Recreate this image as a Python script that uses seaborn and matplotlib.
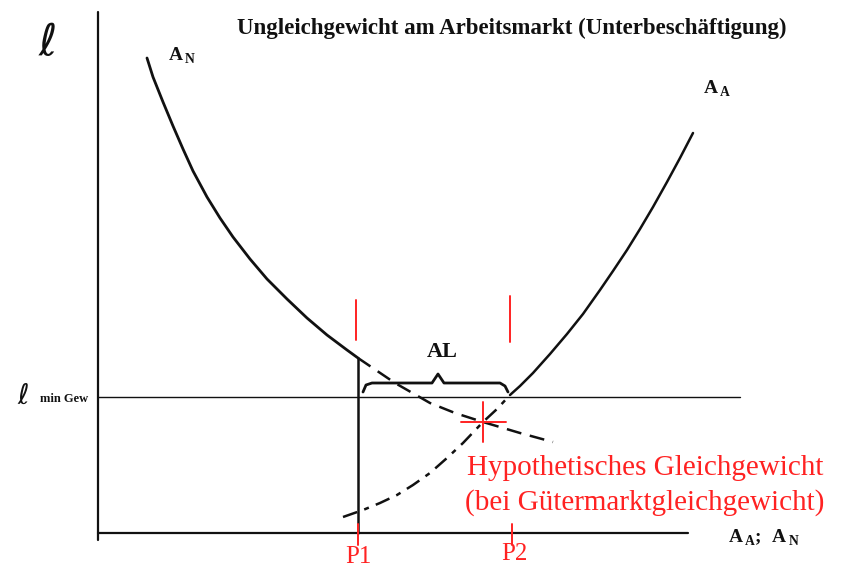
import numpy as np
import pandas as pd
import matplotlib
matplotlib.use("Agg")
import matplotlib.pyplot as plt
import seaborn as sns

sns.set_theme(style="white")
plt.rcParams["font.family"] = ["Liberation Serif", "DejaVu Serif"]
plt.rcParams["mathtext.fontset"] = "custom"
plt.rcParams["mathtext.rm"] = "Liberation Serif"
plt.rcParams["mathtext.bf"] = "Liberation Serif:bold"

# --- curve data (employment on x, real wage on y, arbitrary units) ---
# labour demand A_N, observed part
an_x = [49, 55, 65, 75, 85, 95, 109, 122, 135, 152, 169, 189, 209, 229, 249, 260]
an_y = [475, 456, 431, 407, 384, 362, 336, 315, 296, 274, 254, 234, 215, 198, 183, 175]
# labour demand A_N, hypothetical continuation
an_hyp_x = [260, 297, 332, 357, 385, 422, 455]
an_hyp_y = [175, 150, 130, 120, 111, 100, 91]
# labour supply A_A, hypothetical lower part
aa_hyp_x = [245, 265, 282, 299, 315, 332, 349, 365, 385, 399, 412]
aa_hyp_y = [16, 23, 30, 38, 48, 60, 75, 90, 111, 124, 138]
# labour supply A_A, observed part
aa_x = [412, 422, 435, 452, 469, 485, 502, 515, 529, 542, 555, 569, 582, 595]
aa_y = [138, 147, 160, 179, 199, 219, 243, 262, 283, 304, 326, 351, 375, 400]

wage_min = 136          # minimum wage level
p1, p2 = 260, 412       # employment points P1 / P2
eq_x, eq_y = 385, 111   # hypothetical equilibrium

RED = "#ff2222"
BLACK = "#111111"

fig = plt.figure(figsize=(8.45, 5.71), dpi=100)
ax = fig.add_axes([0, 0, 1, 1])
ax.set_xlim(-98, 747)
ax.set_ylim(-38, 533)
ax.axis("off")

df_an = pd.DataFrame({"x": an_x, "y": an_y})
df_an_h = pd.DataFrame({"x": an_hyp_x, "y": an_hyp_y})
df_aa = pd.DataFrame({"x": aa_x, "y": aa_y})
df_aa_h = pd.DataFrame({"x": aa_hyp_x, "y": aa_hyp_y})

line_kw = dict(ax=ax, color=BLACK, sort=False, estimator=None)
sns.lineplot(data=df_an, x="x", y="y", lw=2.0, solid_joinstyle="round", **line_kw)
sns.lineplot(data=df_an_h, x="x", y="y", lw=1.8, linestyle=(0, (6, 3.5)), **line_kw)
sns.lineplot(data=df_aa, x="x", y="y", lw=1.8, solid_joinstyle="round", **line_kw)
sns.lineplot(data=df_aa_h, x="x", y="y", lw=1.8, linestyle=(0, (6, 3, 2, 3)), **line_kw)

# axes
ax.plot([0, 0], [-7, 521], color=BLACK, lw=1.6)
ax.plot([0, 590], [0, 0], color=BLACK, lw=1.6)
# minimum wage line
ax.plot([0, 642], [wage_min, wage_min], color=BLACK, lw=1.0)
# employment at P1
ax.plot([p1, p1], [0, an_y[-1]], color=BLACK, lw=1.8)

# brace marking unemployment AL
bx = [265, 268, 274, 334, 340, 346, 402, 407, 410]
by = [141, 148, 150, 150, 159, 150, 150, 147, 141]
ax.plot(bx, by, color=BLACK, lw=2.0)
ax.text(344, 181, "AL", ha="center", va="center", fontsize=16,
        fontweight="bold", color=BLACK)

# red markers
for px, (y0, y1) in zip([p1 - 2, p2], [(193, 233), (191, 237)]):
    ax.plot([px, px], [y0, y1], color=RED, lw=1.4)
for px in (p1, p2 + 2):
    ax.plot([px, px], [-12, 9], color=RED, lw=1.4)
ax.plot([eq_x - 22, eq_x + 23], [eq_y, eq_y], color=RED, lw=1.4)
ax.plot([eq_x, eq_x], [eq_y - 20, eq_y + 20], color=RED, lw=1.4)

ax.text(p1, -24, "P1", ha="center", va="center", fontsize=18, color=RED)
ax.text(p2 + 4, -21, "P2", ha="center", va="center", fontsize=18, color=RED)
ax.text(547, 65, "Hypothetisches Gleichgewicht", ha="center", va="center",
        fontsize=21, color=RED)
ax.text(547, 30, "(bei Gütermarktgleichgewicht)", ha="center", va="center",
        fontsize=21, color=RED)

# title and labels
ax.text(414, 505, "Ungleichgewicht am Arbeitsmarkt (Unterbeschäftigung)",
        ha="center", va="center", fontsize=16.5, fontweight="bold", color=BLACK)
ell_family = ["DejaVu Sans", "Noto Sans", "DejaVu Serif"]
ax.text(-50, 490, "ℓ", ha="center", va="center", fontsize=32,
        family=ell_family, style="italic", color=BLACK)
ax.text(-75, 137, "ℓ", ha="center", va="center", fontsize=20,
        family=ell_family, style="italic", color=BLACK)
ax.text(-58, 134, "min Gew", ha="left", va="center", fontsize=9,
        fontweight="bold", color=BLACK)
ax.text(84, 477, r"$\mathbf{A}_{\,\mathbf{N}}$", ha="center", va="center",
        fontsize=14, color=BLACK)
ax.text(619, 444, r"$\mathbf{A}_{\,\mathbf{A}}$", ha="center", va="center",
        fontsize=14, color=BLACK)
ax.text(630, -5, r"$\mathbf{A}_{\,\mathbf{A}}\mathbf{;}\ \mathbf{A}_{\,\mathbf{N}}$",
        ha="left", va="center", fontsize=14, color=BLACK)

fig.savefig("out.png", dpi=100, facecolor="white")
